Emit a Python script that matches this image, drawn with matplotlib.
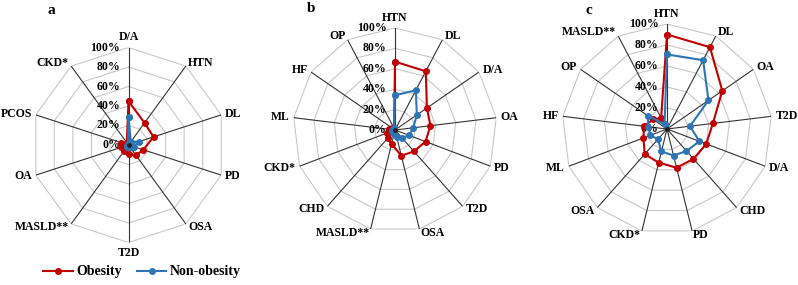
import numpy as np
import matplotlib.pyplot as plt

# panel a
cats_a = ["D/A", "HTN", "DL", "PD", "OSA", "T2D", "MASLD**", "OA", "PCOS", "CKD*"]
obese_a = [45, 28, 27, 16, 13, 9, 8, 8, 8, 3]
nonob_a = [29, 4, 11, 6, 3, 2, 2, 2, 1, 1]

# panel b
cats_b = ["HTN", "DL", "D/A", "OA", "PD", "T2D", "OSA", "MASLD**", "CHD", "CKD*", "ML", "HF", "OP"]
obese_b = [67, 65, 38, 35, 32, 28, 26, 14, 11, 8, 6, 3, 2]
nonob_b = [34, 44, 26, 18, 15, 10, 7, 4, 3, 3, 2, 2, 2]

# panel c
cats_c = ["HTN", "DL", "OA", "T2D", "D/A", "CHD", "PD", "CKD*", "OSA", "ML", "HF", "OP", "MASLD**"]
obese_c = [90, 88, 64, 44, 40, 38, 38, 33, 32, 24, 22, 16, 12]
nonob_c = [71, 74, 48, 22, 33, 28, 26, 22, 13, 17, 18, 22, 5]

levels = [0, 20, 40, 60, 80, 100]

W, H = 798, 285
fig = plt.figure(figsize=(W / 100, H / 100), dpi=100)

red = "#C00000"
blue = "#2E75B6"
serif = "Liberation Serif"


def radar(cx, cy, r, cats, ob, nob):
    ax = fig.add_axes([(cx - r) / W, (H - cy - r) / H, 2 * r / W, 2 * r / H],
                      projection="polar")
    n = len(cats)
    theta = np.arange(n) * 2 * np.pi / n
    ax.set_theta_zero_location("N")
    ax.set_theta_direction(-1)
    ax.set_ylim(0, 100)
    ax.axis("off")
    closed = np.append(theta, theta[0])
    # polygon rings
    for lev in levels[1:]:
        ax.plot(closed, [lev] * (n + 1), color="#C8C8C8", lw=0.8, zorder=1)
    # spokes
    for t in theta:
        ax.plot([t, t], [0, 100], color="#333333", lw=0.8, zorder=2)
    ax.plot(closed, ob + ob[:1], color=red, lw=1.5, marker="o", ms=4,
            zorder=4, label="Obesity")
    ax.plot(closed, nob + nob[:1], color=blue, lw=1.5, marker="o", ms=4,
            zorder=5, label="Non-obesity")
    ax.plot([0], [0], marker="o", color="#222222", ms=2.5, zorder=6)
    for lev in levels:
        ax.annotate(f"{lev}%", xy=(0, lev), xytext=(-6, 0),
                    textcoords="offset points", ha="right", va="center",
                    fontsize=8.5, fontweight="bold", family=serif, zorder=3)
    for t, name in zip(theta, cats):
        s, c = np.sin(t), np.cos(t)
        if abs(s) < 0.15:
            ha = "center"
            va = "bottom" if c > 0 else "top"
        else:
            ha = "left" if s > 0 else "right"
            va = "center"
        ax.annotate(name, xy=(t, 100), xytext=(3 * s, 3 * c),
                    textcoords="offset points", ha=ha, va=va,
                    fontsize=8.5, fontweight="bold", family=serif)
    return ax


ax_a = radar(128.5, 145, 97.5, cats_a, obese_a, nonob_a)
ax_b = radar(395, 130, 102, cats_b, obese_b, nonob_b)
ax_c = radar(667, 129, 105, cats_c, obese_c, nonob_c)

for letter, x, y in [("a", 51, 10), ("b", 311, 8), ("c", 589, 10)]:
    fig.text(x / W, 1 - y / H, letter, ha="center", va="center",
             fontsize=11, fontweight="bold", family=serif)

handles, labels = ax_a.get_legend_handles_labels()
fig.legend(handles, labels, loc="center", bbox_to_anchor=(142 / W, 13 / H),
           ncol=2, frameon=False, handlelength=2.1, handletextpad=0.25,
           columnspacing=1.1,
           prop=dict(family=serif, weight="bold", size=10))

fig.savefig("out.png", dpi=100)
